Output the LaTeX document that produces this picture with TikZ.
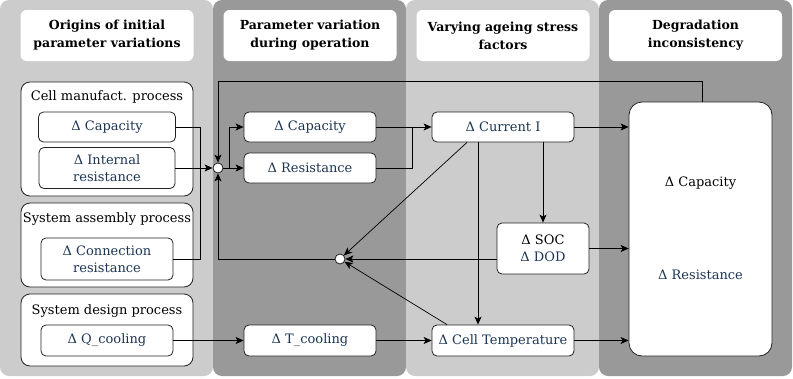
\documentclass[tikz,border=0pt]{standalone}
\usepackage{fontspec}
\setmainfont{DejaVu Serif}
\usetikzlibrary{arrows.meta}
\definecolor{lg}{HTML}{CCCCCC}
\definecolor{dg}{HTML}{999999}
\definecolor{tb}{HTML}{1C3553}
\definecolor{edge}{HTML}{222222}
\begin{document}
\begin{tikzpicture}[x=1pt,y=-1pt,
  box/.style={draw=edge, line width=0.8pt, fill=white, rounded corners=5pt, text=tb,
    font=\fontsize{13}{17}\selectfont, align=center, inner sep=0pt},
  grp/.style={draw=edge, line width=0.8pt, fill=white, rounded corners=9pt, inner sep=0pt},
  gtitle/.style={font=\fontsize{13}{17}\selectfont, text=black, inner sep=0pt},
  hdr/.style={fill=white, rounded corners=6pt, font=\bfseries\fontsize{12.5}{18}\selectfont,
    align=center, inner sep=0pt, minimum width=173pt, minimum height=51pt},
  arr/.style={-{Stealth[length=8pt,width=7pt,inset=2pt]}},
  ln/.style={line width=0.7pt, draw=black},
  junc/.style={circle, draw=edge, fill=white, minimum size=10pt, inner sep=0pt, line width=0.8pt}
]
\useasboundingbox (0,0) rectangle (793,378);
% column backgrounds
\fill[lg, rounded corners=9pt] (0,0) rectangle (213,376);
\fill[dg, rounded corners=9pt] (213,0) rectangle (406,376);
\fill[lg, rounded corners=9pt] (406,0) rectangle (599,376);
\fill[dg, rounded corners=9pt] (599,0) rectangle (792,376);
% headers
\node[hdr] (h1) at (107,35.5) {Origins of initial\\parameter variations};
\node[hdr] (h2) at (310,35.5) {Parameter variation\\during operation};
\node[hdr] (h3) at (503,35.5) {Varying ageing stress\\factors};
\node[hdr] (h4) at (695.5,35.5) {Degradation\\inconsistency};
% groups in column 1
\node[grp, minimum width=172pt, minimum height=114pt] (g1) at (107,139) {};
\node[gtitle] (g1t) at (107,97) {Cell manufact. process};
\node[grp, minimum width=172pt, minimum height=84pt] (g2) at (107,245) {};
\node[gtitle] (g2t) at (107,219) {System assembly process};
\node[grp, minimum width=172pt, minimum height=72pt] (g3) at (107,330) {};
\node[gtitle] (g3t) at (107,311) {System design process};
% nodes
\node[box, minimum width=137pt, minimum height=30pt] (c1cap) at (107,127) {Δ Capacity};
\node[box, minimum width=136pt, minimum height=41pt] (c1ir) at (107,168) {Δ Internal\\resistance};
\node[box, minimum width=132pt, minimum height=42pt] (c1cr) at (107,259) {Δ Connection\\resistance};
\node[box, minimum width=132pt, minimum height=31pt] (c1q) at (107,340.5) {Δ Q\_cooling};
\node[box, minimum width=132pt, minimum height=30pt] (c2cap) at (310,127) {Δ Capacity};
\node[box, minimum width=132pt, minimum height=30pt] (c2res) at (310,168) {Δ Resistance};
\node[box, minimum width=132pt, minimum height=31pt] (c2t) at (310,340.5) {Δ T\_cooling};
\node[box, minimum width=142pt, minimum height=30pt] (c3i) at (503,127) {Δ Current I};
\node[box, minimum width=92pt, minimum height=51pt] (c3soc) at (543,248.5) {\textcolor{black}{Δ SOC}\\Δ DOD};
\node[box, minimum width=142pt, minimum height=31pt] (c3temp) at (503,340.5) {Δ Cell Temperature};
\node[box, rounded corners=13pt, minimum width=143pt, minimum height=254pt] (big) at (700.5,229) {};
\node[font=\fontsize{13}{17}\selectfont, text=black, inner sep=0pt] (bcap) at (700.5,183) {Δ Capacity};
\node[font=\fontsize{13}{17}\selectfont, text=tb, inner sep=0pt] (bres) at (700.5,275) {Δ Resistance};
\node[junc] (j1) at (218,168) {};
\node[junc] (j2) at (340,259) {};
% helper coordinates
\coordinate (topy) at (0,81);
\coordinate (bx) at (200,0);
\coordinate (sx) at (229,0);
\coordinate (rx) at (412,0);
\coordinate (vx1) at (478,0);
\coordinate (vx2) at (543,0);
\coordinate (dx1) at (467,0);
\coordinate (dx2) at (447,0);
\coordinate (sy) at (0,259);
% connectors
\draw[ln, arr] ([xshift=1.5pt]big.north) -- ([xshift=1.5pt]big.north |- topy) -| (j1.north);
\draw[ln] (c1cap.east) -| (bx |- c1cr.east) -- (c1cr.east);
\draw[ln, arr] (c1ir.east) -- (j1.west);
\draw[ln, arr] (j2.west) -| (j1.south);
\draw[ln, arr] (j1.east) -- (c2res.west);
\draw[ln, arr] (sx |- j1) |- (c2cap.west);
\draw[ln, arr] (c2cap.east) -- (c3i.west);
\draw[ln] (c2res.east) -| (rx |- c2cap.east);
\draw[ln, arr] (c3i.east) -- (big.west |- c3i.east);
\draw[ln, arr] (c3i.south -| vx1) -- (c3temp.north -| vx1);
\draw[ln, arr] (c3i.south -| vx2) -- (c3soc.north);
\draw[ln, arr] (c3i.south -| dx1) -- (j2);
\draw[ln, arr] (c3soc.west |- sy) -- (j2.east);
\draw[ln, arr] (c3temp.north -| dx2) -- (j2);
\draw[ln, arr] (c3soc.east) -- (big.west |- c3soc.east);
\draw[ln, arr] (c3temp.east) -- (big.west |- c3temp.east);
\draw[ln, arr] (c1q.east) -- (c2t.west);
\draw[ln, arr] (c2t.east) -- (c3temp.west);
\end{tikzpicture}
\end{document}
